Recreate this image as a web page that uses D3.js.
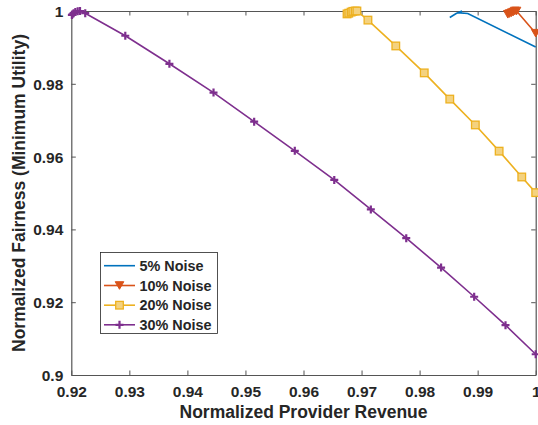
<!DOCTYPE html>
<html><head><meta charset="utf-8">
<script src="https://cdn.jsdelivr.net/npm/d3@7"></script>
<style>body{margin:0;background:#fff}svg{display:block}text{font-family:"Liberation Sans",Arial,sans-serif;font-weight:bold;fill:#262626}</style>
</head><body>
<script>
const xTicks = [0.92,0.93,0.94,0.95,0.96,0.97,0.98,0.99,1];
const xTickLabels = ["0.92","0.93","0.94","0.95","0.96","0.97","0.98","0.99","1"];
const yTicks = [0.9,0.92,0.94,0.96,0.98,1];
const yTickLabels = ["0.9","0.92","0.94","0.96","0.98","1"];
const seriesNames = ["5% Noise","10% Noise","20% Noise","30% Noise"];
const blueX = [0.9852,0.9863,0.9873,0.9868,0.9883,1.0];
const blueY = [0.9982,0.9993,1.0,0.9995,0.9993,0.9901];
const orangeX = [0.9952,0.9955,0.9958,0.9961,0.9964,0.9967,1.0];
const orangeY = [0.9991,0.9993,0.9995,0.9997,1.0,1.0,0.9939];
const yellowX = [0.9675,0.9678,0.9682,0.9685,0.9689,0.9692,0.9711,0.9759,0.9808,0.9852,0.9896,0.9937,0.9976,1.0];
const yellowY = [0.9992,0.9994,0.9997,0.9999,1.0,1.0,0.9975,0.9904,0.9830,0.9758,0.9687,0.9615,0.9544,0.9501];
const purpleX = [0.9201,0.9202,0.9204,0.9207,0.9211,0.9215,0.9224,0.9293,0.9369,0.9445,0.9515,0.9585,0.9653,0.9716,0.9777,0.9837,0.9894,0.9948,1.0];
const purpleY = [0.9989,0.9991,0.9994,0.9997,0.9999,1.0,0.9994,0.9932,0.9855,0.9776,0.9696,0.9616,0.9536,0.9455,0.9376,0.9295,0.9215,0.9137,0.9057];

const W=538,H=425, L=71.3, R=535.7, T=11, B=375;
const svg=d3.select("body").append("svg").attr("width",W).attr("height",H);
const x=d3.scaleLinear().domain([0.92,1]).range([L,R]);
const y=d3.scaleLinear().domain([0.9,1]).range([B,T]);
const axisColor="#555";
const tk=4.5;

const gB=svg.append("g").attr("transform",`translate(0,${B})`)
  .call(d3.axisBottom(x).tickValues(xTicks).tickSizeInner(-tk).tickSizeOuter(0).tickFormat((d,i)=>xTickLabels[i]));
const gT=svg.append("g").attr("transform",`translate(0,${T})`)
  .call(d3.axisTop(x).tickValues(xTicks).tickSizeInner(-tk).tickSizeOuter(0).tickFormat(""));
const gL=svg.append("g").attr("transform",`translate(${L},0)`)
  .call(d3.axisLeft(y).tickValues(yTicks).tickSizeInner(-tk).tickSizeOuter(0).tickFormat((d,i)=>yTickLabels[i]));
const gR=svg.append("g").attr("transform",`translate(${R},0)`)
  .call(d3.axisRight(y).tickValues(yTicks).tickSizeInner(-tk).tickSizeOuter(0).tickFormat(""));
[gB,gT,gL,gR].forEach(g=>{
  g.select(".domain").attr("stroke",axisColor).attr("stroke-width",1.2);
  g.selectAll(".tick line").attr("stroke",axisColor).attr("stroke-width",1);
  g.selectAll("text").attr("font-family","Liberation Sans, Arial, sans-serif").attr("font-weight","bold").attr("font-size","15.5px").attr("fill","#262626");
});
gB.selectAll(".tick text").attr("y",0).attr("dy","0").attr("transform","translate(0,22)");
gL.selectAll(".tick text").attr("x",-8).attr("dy","0.36em");

svg.append("text").attr("x",(L+R)/2).attr("y",418).attr("text-anchor","middle").attr("font-size","17.5px").text("Normalized Provider Revenue");
svg.append("text").attr("transform",`translate(25,${(T+B)/2}) rotate(-90)`).attr("text-anchor","middle").attr("font-size","17.5px").text("Normalized Fairness (Minimum Utility)");

const colors=["#0072BD","#D95319","#EDB120","#7E2F8E"];
const series=[
  {xs:blueX,ys:blueY,c:colors[0],m:null},
  {xs:orangeX,ys:orangeY,c:colors[1],m:"tri"},
  {xs:yellowX,ys:yellowY,c:colors[2],m:"sq"},
  {xs:purpleX,ys:purpleY,c:colors[3],m:"plus"}
];
function marker(g,type,c,px,py){
  if(type==="tri"){
    g.append("path").attr("d",`M${px-4.3},${py-3.8}L${px+4.3},${py-3.8}L${px},${py+3.8}Z`).attr("fill",c).attr("stroke",c).attr("stroke-width",1);
  } else if(type==="sq"){
    g.append("rect").attr("x",px-3.8).attr("y",py-3.8).attr("width",7.6).attr("height",7.6).attr("fill","#f4d27f").attr("stroke",c).attr("stroke-width",1.3);
  } else if(type==="plus"){
    g.append("path").attr("d",`M${px-4},${py}L${px+4},${py}M${px},${py-4}L${px},${py+4}`).attr("stroke",c).attr("stroke-width",2.2);
  }
}
const line=d3.line().x(d=>x(d[0])).y(d=>y(d[1]));
series.forEach(s=>{
  const pts=s.xs.map((v,i)=>[v,s.ys[i]]);
  const g=svg.append("g");
  g.append("path").datum(pts).attr("d",line).attr("fill","none").attr("stroke",s.c).attr("stroke-width",1.6);
  if(s.m) pts.forEach(p=>marker(g,s.m,s.c,x(p[0]),y(p[1])));
});

const lg=svg.append("g");
lg.append("rect").attr("x",100.5).attr("y",252.5).attr("width",117).attr("height",81).attr("fill","#fff").attr("stroke","#262626").attr("stroke-width",0.8);
const ly=[265.7,285.5,305.2,324.8];
series.forEach((s,i)=>{
  lg.append("line").attr("x1",104).attr("x2",135).attr("y1",ly[i]).attr("y2",ly[i]).attr("stroke",s.c).attr("stroke-width",1.6);
  if(s.m) marker(lg,s.m,s.c,119.5,ly[i]);
  lg.append("text").attr("x",139.5).attr("y",ly[i]).attr("dy","0.36em").attr("font-size","14.4px").text(seriesNames[i]);
});
</script>
</body></html>
